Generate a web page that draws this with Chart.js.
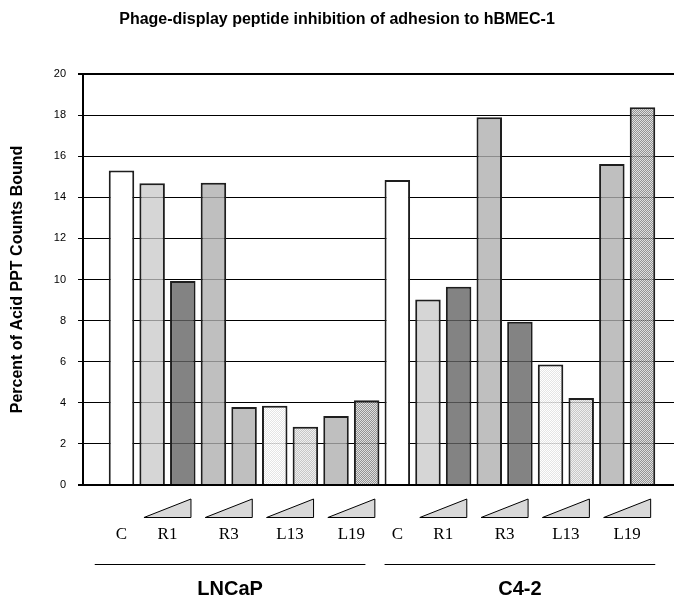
<!DOCTYPE html>
<html>
<head>
<meta charset="utf-8">
<script src="https://cdn.jsdelivr.net/npm/chart.js@4.4.1/dist/chart.umd.min.js"></script>
<style>
  html, body { margin: 0; padding: 0; background: #fff; }
  #c { display: block; }
</style>
</head>
<body>
<canvas id="c" width="674" height="599"></canvas>
<script>
// ---- data ----
const groups = ["LNCaP", "C4-2"];
const treatments = ["C", "R1", "R3", "L13", "L19"];
const lncapValues = [15.3, 14.68, 9.93, 14.71, 3.8, 3.86, 2.84, 3.36, 4.12];
const c42Values   = [14.84, 9.03, 9.65, 17.89, 7.95, 5.86, 4.23, 15.62, 18.38];
const yTicks = [0, 2, 4, 6, 8, 10, 12, 14, 16, 18, 20];
const chartTitle = "Phage-display peptide inhibition of adhesion to hBMEC-1";
const yTitle = "Percent of Acid PPT Counts Bound";

// ---- fills ----
function checker(c1, c2) {
  const cv = document.createElement('canvas');
  cv.width = 2; cv.height = 2;
  const g = cv.getContext('2d');
  g.fillStyle = c1; g.fillRect(0, 0, 2, 2);
  g.clearRect(0, 0, 2, 2);
  g.fillStyle = c1; g.fillRect(0, 0, 1, 1); g.fillRect(1, 1, 1, 1);
  g.fillStyle = c2; g.fillRect(1, 0, 1, 1); g.fillRect(0, 1, 1, 1);
  return g.createPattern(cv, 'repeat');
}
const fWhite = '#ffffff';
const fLight = 'rgba(200,200,200,0.75)';
const fDark  = 'rgba(100,100,100,0.8)';
const fMid   = 'rgba(175,175,175,0.8)';
const fVLightDots = checker('rgba(255,255,255,0.85)', 'rgba(225,225,225,0.85)');
const fLightDots  = checker('rgba(235,235,235,0.8)', 'rgba(185,185,185,0.8)');
const fDarkDots   = checker('rgba(215,215,215,0.8)', 'rgba(120,120,120,0.8)');

const fillsLNCaP = [fWhite, fLight, fDark, fMid, fMid, fVLightDots, fLightDots, fMid, fDarkDots];
const fillsC42   = [fWhite, fLight, fDark, fMid, fDark, fVLightDots, fLightDots, fMid, fDarkDots];

const allValues = lncapValues.concat(c42Values);
const points = allValues.map((v, i) => ({ x: i, y: v }));
const fills = fillsLNCaP.concat(fillsC42);

const sans = "'Liberation Sans', Arial, sans-serif";
const serif = "'Liberation Serif', 'Times New Roman', serif";

// ---- annotation plugin (labels under the axis) ----
const belowAxis = {
  id: 'belowAxis',
  afterDraw(chart) {
    const ctx = chart.ctx;
    const bars = chart.getDatasetMeta(0).data;
    const per = lncapValues.length;
    const lineOffsets = [-14, 0];
    ctx.save();
    groups.forEach((gname, g) => {
      const base = g * per;
      // control label
      const cBar = bars[base];
      ctx.fillStyle = '#000';
      ctx.font = "17px " + serif;
      ctx.textAlign = 'center';
      ctx.textBaseline = 'middle';
      ctx.fillText(treatments[0], cBar.x, 535);
      // pairs
      for (let k = 1; k < treatments.length; k++) {
        const b1 = bars[base + 2 * k - 1];
        const b2 = bars[base + 2 * k];
        const cx = (b1.x + b2.x) / 2;
        const half = 23.5;
        ctx.beginPath();
        ctx.moveTo(cx - half, 517.5);
        ctx.lineTo(cx + half, 499);
        ctx.lineTo(cx + half, 517.5);
        ctx.closePath();
        ctx.fillStyle = '#d9d9d9';
        ctx.fill();
        ctx.lineWidth = 1;
        ctx.strokeStyle = '#000';
        ctx.stroke();
        ctx.fillStyle = '#000';
        ctx.fillText(treatments[k], cx, 535);
      }
      // group line
      const first = bars[base], last = bars[base + per - 1];
      const x1 = first.x - first.width / 2 + lineOffsets[g];
      const x2 = last.x + last.width / 2 + lineOffsets[g];
      ctx.beginPath();
      ctx.moveTo(x1, 564.5);
      ctx.lineTo(x2, 564.5);
      ctx.lineWidth = 1;
      ctx.strokeStyle = '#000';
      ctx.stroke();
      ctx.font = "bold 20px " + sans;
      ctx.fillText(gname, (x1 + x2) / 2, 589);
    });
    ctx.restore();
  }
};

new Chart(document.getElementById('c'), {
  type: 'bar',
  data: {
    datasets: [{
      data: points,
      backgroundColor: fills,
      borderColor: '#1e1e1e',
      borderWidth: 2,
      barPercentage: 0.832,
      categoryPercentage: 1.0
    }]
  },
  options: {
    responsive: false,
    animation: false,
    devicePixelRatio: 1,
    layout: { padding: { left: 0, right: 0, top: 0, bottom: 114 } },
    plugins: {
      legend: { display: false },
      tooltip: { enabled: false },
      title: {
        display: true,
        text: chartTitle,
        color: '#000',
        font: { family: sans, size: 16, weight: 'bold' },
        padding: { top: 10.4, bottom: 44.4 }
      }
    },
    scales: {
      x: {
        type: 'linear',
        display: false,
        min: -1.256,
        max: 18.028,
        offset: false
      },
      y: {
        min: 0,
        max: 20,
        afterFit(scale) { scale.width = 83; },
        afterBuildTicks(scale) { scale.ticks = yTicks.map(v => ({ value: v })); },
        ticks: {
          color: '#000',
          padding: 12,
          font: { family: sans, size: 11 }
        },
        grid: {
          color: '#000',
          tickColor: '#000',
          tickLength: 5,
          lineWidth: (c) => (c.tick && (c.tick.value === 0 || c.tick.value === 20)) ? 2 : 1
        },
        border: { display: true, color: '#000', width: 2 },
        title: {
          display: true,
          text: yTitle,
          color: '#000',
          font: { family: sans, size: 16, weight: 'bold' },
          padding: { top: 8, bottom: 0 }
        }
      }
    }
  },
  plugins: [belowAxis]
});
</script>
</body>
</html>
